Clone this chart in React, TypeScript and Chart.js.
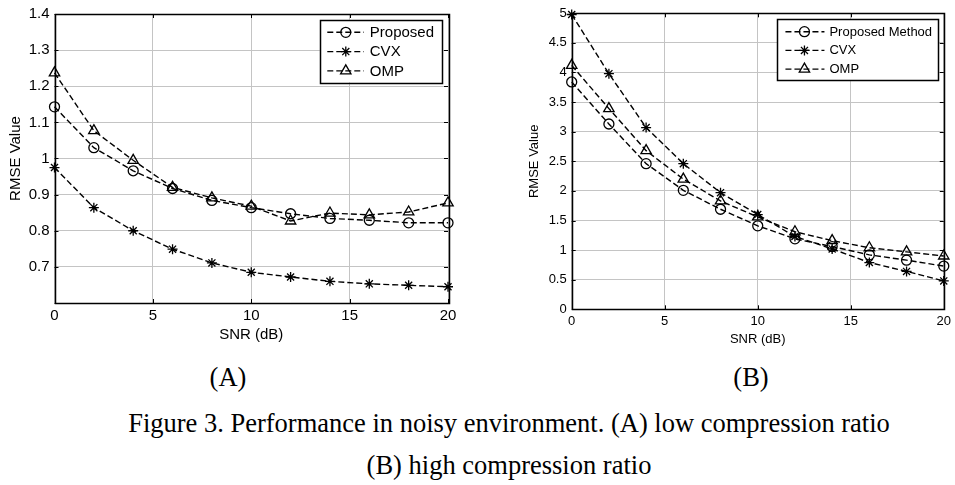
import React, { useEffect, useRef } from 'react';
import { Chart, registerables } from 'chart.js';

Chart.register(...registerables);

// ---------- data ----------
const snr = [0, 2, 4, 6, 8, 10, 12, 14, 16, 18, 20];
const xTickValues = [0, 5, 10, 15, 20];

const lowProposed = [1.143, 1.03, 0.966, 0.917, 0.884, 0.864, 0.847, 0.834, 0.829, 0.822, 0.822];
const lowCVX = [0.975, 0.864, 0.8, 0.749, 0.711, 0.685, 0.672, 0.66, 0.653, 0.649, 0.645];
const lowOMP = [1.237, 1.077, 0.995, 0.92, 0.891, 0.868, 0.827, 0.849, 0.844, 0.852, 0.877];

const highProposed = [3.84, 3.13, 2.46, 2.01, 1.69, 1.41, 1.19, 1.06, 0.92, 0.83, 0.73];
const highCVX = [4.98, 3.98, 3.07, 2.46, 1.97, 1.6, 1.23, 1.02, 0.79, 0.64, 0.48];
const highOMP = [4.12, 3.39, 2.68, 2.2, 1.83, 1.56, 1.31, 1.16, 1.04, 0.97, 0.9];

const lowYTickValues = [0.6, 0.7, 0.8, 0.9, 1.0, 1.1, 1.2, 1.3, 1.4];
const lowYTickLabels = ['', '0.7', '0.8', '0.9', '1', '1.1', '1.2', '1.3', '1.4'];
const highYTickValues = [0, 0.5, 1, 1.5, 2, 2.5, 3, 3.5, 4, 4.5, 5];
const highYTickLabels = ['0', '0.5', '1', '1.5', '2', '2.5', '3', '3.5', '4', '4.5', '5'];

const lowLegend = ['Proposed', 'CVX', 'OMP'];
const highLegend = ['Proposed Method', 'CVX', 'OMP'];
const markerStyles = ['circle', 'star', 'triangle'];

const xTitle = 'SNR (dB)';
const yTitle = 'RMSE Value';
const captionLine1 = 'Figure 3. Performance in noisy environment. (A) low compression ratio';
const captionLine2 = '(B) high compression ratio';

const SANS = '"Liberation Sans", Arial, sans-serif';
const SERIF = '"Liberation Serif", "Times New Roman", serif';
const LINE_W = 1.4;
const DASH = [6, 3];

function drawMarker(ctx: CanvasRenderingContext2D, style: string, x: number, y: number, r: number) {
  ctx.save();
  ctx.setLineDash([]);
  ctx.strokeStyle = '#000';
  ctx.lineWidth = 1.3;
  ctx.beginPath();
  if (style === 'circle') {
    ctx.arc(x, y, r, 0, Math.PI * 2);
  } else if (style === 'triangle') {
    let a = 0;
    ctx.moveTo(x + Math.sin(a) * r, y - Math.cos(a) * r);
    a += (2 * Math.PI) / 3;
    ctx.lineTo(x + Math.sin(a) * r, y - Math.cos(a) * r);
    a += (2 * Math.PI) / 3;
    ctx.lineTo(x + Math.sin(a) * r, y - Math.cos(a) * r);
    ctx.closePath();
  } else {
    for (let k = 0; k < 4; k++) {
      const a = (k * Math.PI) / 4;
      ctx.moveTo(x + Math.cos(a) * r, y + Math.sin(a) * r);
      ctx.lineTo(x - Math.cos(a) * r, y - Math.sin(a) * r);
    }
  }
  ctx.stroke();
  ctx.restore();
}

type LegendCfg = {
  labels: string[];
  fontSize: number;
  rightOff: number;
  topOff: number;
  lineX0: number;
  lineX1: number;
  markX: number;
  textX: number;
  padR: number;
  firstRow: number;
  rowGap: number;
  height: number;
  markR: number;
};

function framePlugin(cfg: LegendCfg, xt: number[], yt: number[]) {
  return {
    id: 'frameLegend',
    afterDraw(chart: any) {
      const ctx: CanvasRenderingContext2D = chart.ctx;
      const { left, right, top, bottom } = chart.chartArea;
      const xs = chart.scales.x;
      const ys = chart.scales.y;
      ctx.save();
      // inward ticks
      ctx.strokeStyle = '#000';
      ctx.lineWidth = 1;
      const tl = 4;
      ctx.beginPath();
      xt.forEach((v) => {
        const px = Math.round(xs.getPixelForValue(v)) + 0.5;
        ctx.moveTo(px, bottom);
        ctx.lineTo(px, bottom - tl);
        ctx.moveTo(px, top);
        ctx.lineTo(px, top + tl);
      });
      yt.forEach((v) => {
        const py = Math.round(ys.getPixelForValue(v)) + 0.5;
        ctx.moveTo(left, py);
        ctx.lineTo(left + tl, py);
        ctx.moveTo(right, py);
        ctx.lineTo(right - tl, py);
      });
      ctx.stroke();
      // frame
      ctx.lineWidth = 1.5;
      ctx.strokeRect(Math.round(left) + 0.5, Math.round(top) + 0.5, Math.round(right - left), Math.round(bottom - top));

      // legend
      ctx.font = `${cfg.fontSize}px ${SANS}`;
      let tw = 0;
      cfg.labels.forEach((l) => {
        tw = Math.max(tw, ctx.measureText(l).width);
      });
      const bw = cfg.textX + tw + cfg.padR;
      const bx = right - cfg.rightOff - bw;
      const by = top + cfg.topOff;
      ctx.fillStyle = '#fff';
      ctx.fillRect(bx, by, bw, cfg.height);
      ctx.lineWidth = 1.5;
      ctx.strokeStyle = '#000';
      ctx.strokeRect(Math.round(bx) + 0.5, Math.round(by) + 0.5, Math.round(bw), Math.round(cfg.height));
      cfg.labels.forEach((l, i) => {
        const cy = by + cfg.firstRow + i * cfg.rowGap;
        ctx.save();
        ctx.setLineDash(DASH);
        ctx.lineWidth = LINE_W;
        ctx.beginPath();
        ctx.moveTo(bx + cfg.lineX0, cy);
        ctx.lineTo(bx + cfg.lineX1, cy);
        ctx.stroke();
        ctx.restore();
        drawMarker(ctx, markerStyles[i], bx + cfg.markX, cy, markerStyles[i] === 'triangle' ? cfg.markR + 1 : cfg.markR);
        ctx.fillStyle = '#000';
        ctx.textBaseline = 'middle';
        ctx.textAlign = 'left';
        ctx.fillText(l, bx + cfg.textX, cy + 0.5);
      });
      ctx.restore();
    },
  };
}

type PanelCfg = {
  width: number;
  height: number;
  series: number[][];
  yMin: number;
  yMax: number;
  yTicks: number[];
  yLabels: string[];
  fontSize: number;
  pad: { top: number; right: number; left: number; bottom: number };
  yAxisWidth: number;
  xAxisHeight: number;
  xTitleBottom: number;
  yTitleTop: number;
  tickPad: number;
  markR: number;
  legend: LegendCfg;
};

function Panel({ cfg }: { cfg: PanelCfg }) {
  const ref = useRef<HTMLCanvasElement | null>(null);
  useEffect(() => {
    if (!ref.current) return;
    const font = { family: SANS, size: cfg.fontSize, weight: 'normal' as const };
    const datasets = cfg.series.map((s, i) => ({
      label: cfg.legend.labels[i],
      data: snr.map((x, k) => ({ x, y: s[k] })),
      borderColor: '#000',
      borderWidth: LINE_W,
      borderDash: DASH,
      pointStyle: markerStyles[i] as any,
      pointRadius: markerStyles[i] === 'triangle' ? cfg.markR + 1 : cfg.markR,
      pointBorderWidth: 1.3,
      pointBorderColor: '#000',
      pointBackgroundColor: 'rgba(0,0,0,0)',
      fill: false,
      tension: 0,
      clip: false as any,
    }));
    const chart = new Chart(ref.current, {
      type: 'line',
      data: { datasets },
      plugins: [framePlugin(cfg.legend, xTickValues, cfg.yTicks)],
      options: {
        animation: false,
        responsive: false,
        layout: { padding: cfg.pad },
        plugins: { legend: { display: false }, tooltip: { enabled: false } },
        scales: {
          x: {
            type: 'linear',
            min: 0,
            max: 20,
            afterBuildTicks: (s: any) => {
              s.ticks = xTickValues.map((v) => ({ value: v }));
            },
            afterFit: (s: any) => {
              s.height = cfg.xAxisHeight;
            },
            ticks: {
              font,
              color: '#000',
              padding: cfg.tickPad,
              maxRotation: 0,
              autoSkip: false,
              callback: (v: any) => String(v),
            },
            grid: { color: '#c4c4c4', lineWidth: 1, drawTicks: false },
            border: { display: false },
            title: {
              display: true,
              text: xTitle,
              font,
              color: '#000',
              padding: { top: 0, bottom: cfg.xTitleBottom },
            },
          },
          y: {
            type: 'linear',
            min: cfg.yMin,
            max: cfg.yMax,
            afterBuildTicks: (s: any) => {
              s.ticks = cfg.yTicks.map((v) => ({ value: v }));
            },
            afterFit: (s: any) => {
              s.width = cfg.yAxisWidth;
            },
            ticks: {
              font,
              color: '#000',
              padding: cfg.tickPad + 1,
              autoSkip: false,
              callback: (v: any) => {
                const idx = cfg.yTicks.findIndex((t) => Math.abs(t - Number(v)) < 1e-9);
                return idx >= 0 ? cfg.yLabels[idx] : '';
              },
            },
            grid: { color: '#c4c4c4', lineWidth: 1, drawTicks: false },
            border: { display: false },
            title: {
              display: true,
              text: yTitle,
              font,
              color: '#000',
              padding: { top: cfg.yTitleTop, bottom: 0 },
            },
          },
        },
      },
    });
    return () => chart.destroy();
  }, [cfg]);
  return (
    <canvas
      ref={ref}
      width={cfg.width}
      height={cfg.height}
      style={{ width: cfg.width, height: cfg.height, display: 'block' }}
    />
  );
}

const panelA: PanelCfg = {
  width: 470,
  height: 360,
  series: [lowProposed, lowCVX, lowOMP],
  yMin: 0.6,
  yMax: 1.4,
  yTicks: lowYTickValues,
  yLabels: lowYTickLabels,
  fontSize: 15,
  pad: { top: 11, right: 22, left: 0, bottom: 0 },
  yAxisWidth: 54.5,
  xAxisHeight: 57,
  xTitleBottom: 16,
  yTitleTop: 7,
  tickPad: 4,
  markR: 5,
  legend: {
    labels: lowLegend,
    fontSize: 15,
    rightOff: 6,
    topOff: 5.7,
    lineX0: 7.5,
    lineX1: 44,
    markX: 26,
    textX: 50,
    padR: 8,
    firstRow: 12.6,
    rowGap: 19.3,
    height: 62.6,
    markR: 5,
  },
};

const panelB: PanelCfg = {
  width: 485,
  height: 360,
  series: [highProposed, highCVX, highOMP],
  yMin: 0,
  yMax: 5,
  yTicks: highYTickValues,
  yLabels: highYTickLabels,
  fontSize: 13,
  pad: { top: 13.3, right: 11, left: 0, bottom: 0 },
  yAxisWidth: 101.7,
  xAxisHeight: 50.7,
  xTitleBottom: 13,
  yTitleTop: 57,
  tickPad: 4,
  markR: 5,
  legend: {
    labels: highLegend,
    fontSize: 13,
    rightOff: 5.7,
    topOff: 6,
    lineX0: 8.3,
    lineX1: 47.3,
    markX: 27.3,
    textX: 52.3,
    padR: 6,
    firstRow: 12.4,
    rowGap: 18.7,
    height: 60.7,
    markR: 5,
  },
};

export default function App() {
  const serif = { fontFamily: SERIF, fontSize: 26.5, lineHeight: '30px', color: '#000', whiteSpace: 'nowrap' as const };
  return (
    <div
      style={{
        position: 'absolute',
        left: 0,
        top: 0,
        width: 955,
        height: 485,
        background: '#fff',
        overflow: 'hidden',
      }}
    >
      <div style={{ position: 'absolute', left: 0, top: 0 }}>
        <Panel cfg={panelA} />
      </div>
      <div style={{ position: 'absolute', left: 470, top: 0 }}>
        <Panel cfg={panelB} />
      </div>
      <div style={{ ...serif, position: 'absolute', left: 128, top: 362, width: 200, textAlign: 'center' }}>(A)</div>
      <div style={{ ...serif, position: 'absolute', left: 651, top: 362, width: 200, textAlign: 'center' }}>(B)</div>
      <div style={{ ...serif, position: 'absolute', left: 109, top: 408, width: 800, textAlign: 'center' }}>
        {captionLine1}
      </div>
      <div style={{ ...serif, position: 'absolute', left: 109, top: 450, width: 800, textAlign: 'center' }}>
        {captionLine2}
      </div>
    </div>
  );
}
